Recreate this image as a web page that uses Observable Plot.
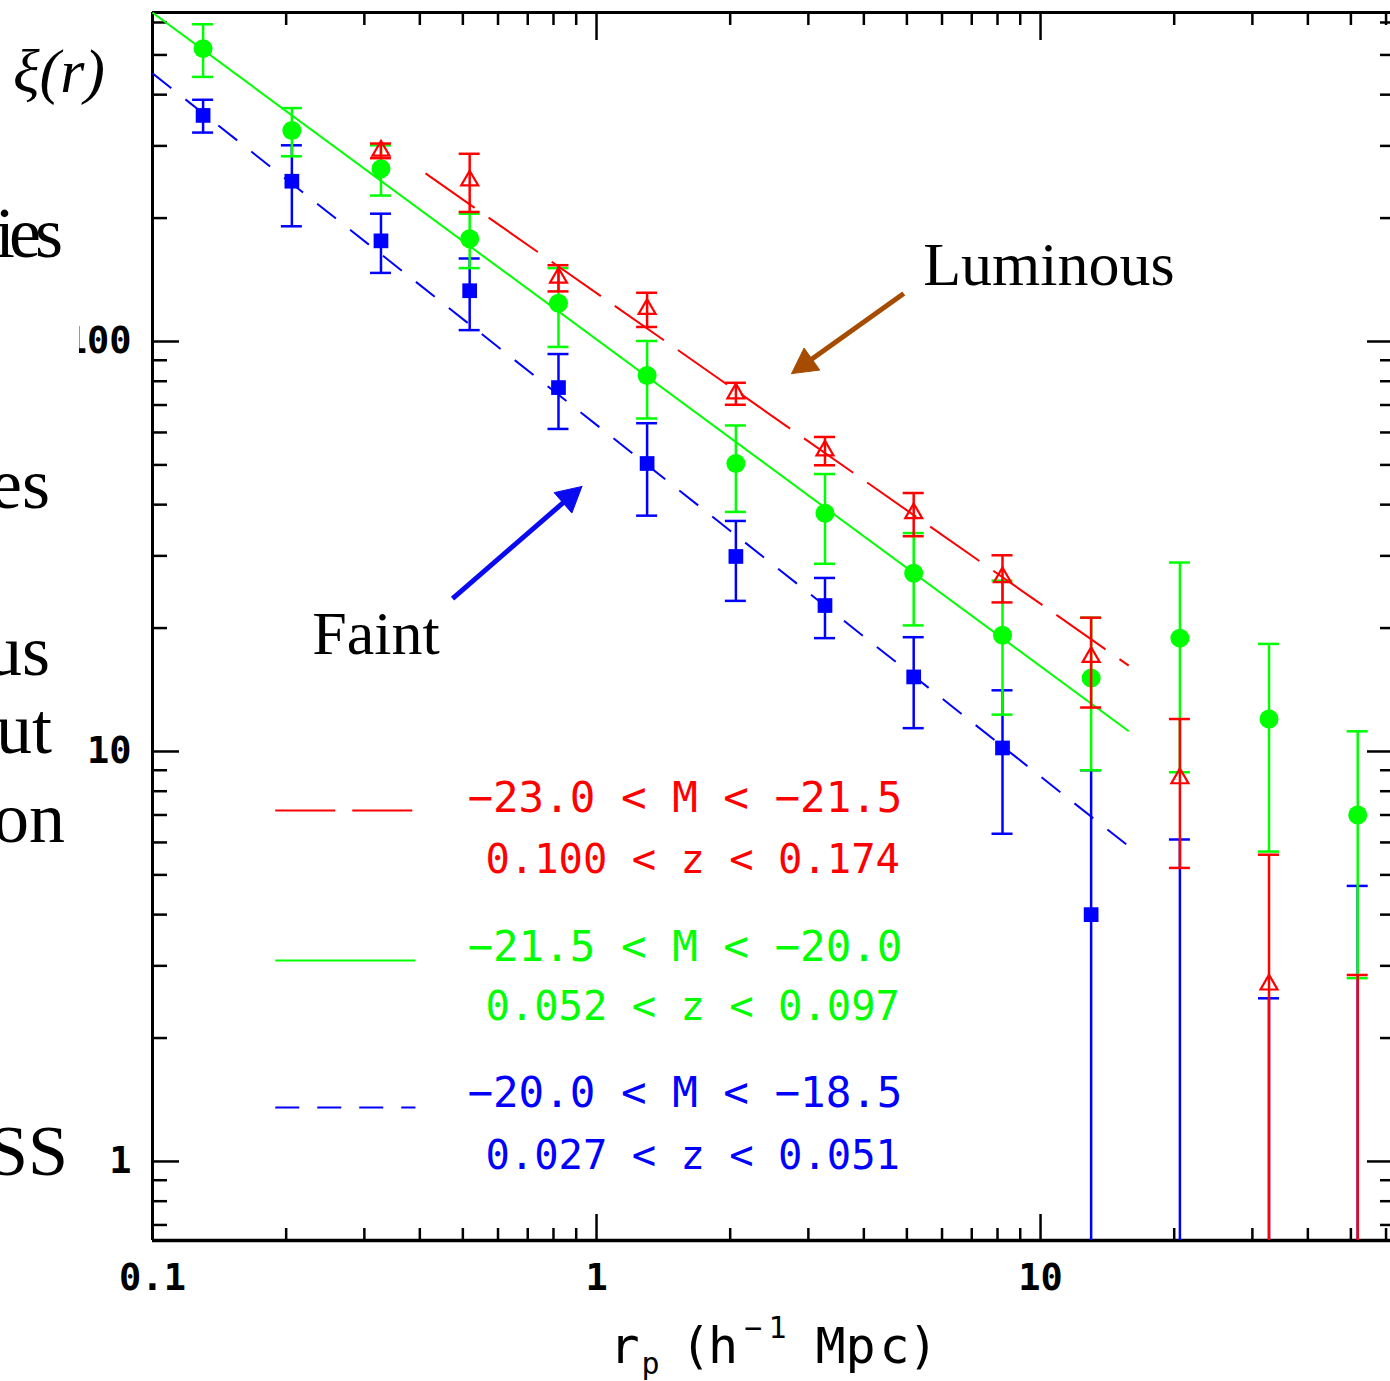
<!DOCTYPE html>
<html>
<head>
<meta charset="utf-8">
<title>Projected correlation function by luminosity</title>
<script src="https://cdn.jsdelivr.net/npm/d3@7"></script>
<script src="https://cdn.jsdelivr.net/npm/@observablehq/plot@0.6"></script>
<style>
  html, body { margin: 0; padding: 0; background: #fff; }
  #wrap { position: relative; width: 1390px; height: 1381px; overflow: hidden; }
  #slide { position: absolute; left: 0; top: 0; width: 79px; height: 1381px; background: #fff; }
  #slide span { position: absolute; white-space: nowrap; font-family: "Liberation Serif", serif; font-size: 72px; line-height: 1; color: #000; }
</style>
</head>
<body>
<div id="wrap"><div id="chart"></div><div id="slide"></div></div>
<script>
// ---------------- data ----------------
const rp = [0.130, 0.206, 0.327, 0.518, 0.821, 1.30, 2.06, 3.27, 5.18, 8.21, 13.0, 20.6, 32.7, 51.8];

const xiRed    = [null, null, 292, 247, 143, 120, 74.7, 54.2, 38.1, 26.6, 17.0, 8.6, 2.7, 0.4];
const errRed   = [null, null, 12, 40, 10.5, 11.5, 4.6, 4.3, 4.6, 3.5, 4.2, 3.4, 2.9, 2.45];
const xiGreen  = [518, 327, 264, 178, 124, 82.6, 50.4, 38.1, 27.2, 19.2, 15.1, 18.9, 12.0, 7.0];
const errGreen = [76, 44, 37, 27, 27, 17.7, 12.0, 9.4, 6.9, 6.9, 6.1, 10.0, 6.3, 4.2];
const xiBlue   = [356, 246, 176, 133, 77.2, 50.4, 29.9, 22.7, 15.2, 10.2, 4.0, 0.3, 0.3, 0.4];
const errBlue  = [32.7, 55, 29, 26.4, 16.0, 12.8, 6.6, 3.8, 3.8, 3.9, 5.0, 5.8, 2.2, 4.3];

// power-law fit lines (end points)
const fitRedR = [0.412, 15.8],  fitRedXi = [257, 16.2];
const fitGreenR = [0.1, 15.8],  fitGreenXi = [634, 11.2];
const fitBlueR = [0.1, 15.8],   fitBlueXi = [451, 5.87];

// legend texts
const legendM = ["−23.0 < M < −21.5", "−21.5 < M < −20.0", "−20.0 < M < −18.5"];
const legendZ = ["0.100 < z < 0.174", "0.052 < z < 0.097", "0.027 < z < 0.051"];
const legendLineR = [0.189, 0.391];
const legendLineXi = [7.18, 3.09, 1.354];
const legendMr = 0.512, legendZr = 0.562;
const legendMxi = [7.10, 3.09, 1.354];
const legendZxi = [5.04, 2.21, 0.961];

// ticks
const xMajor = [0.1, 1, 10];
const xMajorLabels = ["0.1", "1", "10"];
const xMinor = [0.2,0.3,0.4,0.5,0.6,0.7,0.8,0.9, 2,3,4,5,6,7,8,9, 20,30,40,50,60];
const yMajor = [1, 10, 100];
const yMajorLabels = ["1", "10", "100"];
const yMinor = [0.7,0.8,0.9, 2,3,4,5,6,7,8,9, 20,30,40,50,60,70,80,90, 200,300,400,500,600];

// annotations
const arrowLum   = {x1: 4.92,  y1: 131,  x2: 2.75,  y2: 83.5};
const arrowFaint = {x1: 0.474, y1: 23.6, x2: 0.927, y2: 44.3};
const labelLum   = {x: 5.44, y: 137, t: "Luminous"};
const labelFaint = {x: 0.229, y: 17.3, t: "Faint"};

const slideWords = [
  {t: "ies", end: 63, base: 257, ls: -6},
  {t: "es",  end: 50, base: 508, ls: 0},
  {t: "us",  end: 50, base: 675, ls: 0},
  {t: "ut",  end: 52, base: 753, ls: 0},
  {t: "on",  end: 65, base: 842, ls: 0},
  {t: "SS",  end: 68, base: 1175, ls: 0}
];

// ---------------- layout ----------------
const W = 1390, H = 1381;
const mL = 152, mR = 0, mT = 12, mB = 141;
const plotW = W - mL - mR, plotH = H - mT - mB;
const XMIN = 0.1, XMAX = 61.4, YMIN = 0.6415, YMAX = 634.6;
const mono = "DejaVu Sans Mono";
const RED = "#ff0000", GREEN = "#00ff00", BLUE = "#0000ff", BROWN = "#a64c00", ARROWBLUE = "#0a0af0";
const boxW = 79;

const sx = d3.scaleLog([XMIN, XMAX], [mL, W - mR]);
const sy = d3.scaleLog([YMIN, YMAX], [H - mB, mT]);

function rows(xi, err) {
  return rp.map((r, i) => ({r, xi: xi[i], err: err[i]})).filter(d => d.xi != null);
}
function caps(rs) {
  const out = [];
  for (const d of rs) {
    out.push({r: d.r, v: d.xi + d.err});
    if (d.xi - d.err > 0) out.push({r: d.r, v: d.xi - d.err});
  }
  return out;
}
function seriesMarks(xi, err, color, fitR, fitXi, dash, dotOpts) {
  const rs = rows(xi, err);
  const fit = fitR.map((r, i) => ({r, xi: fitXi[i]}));
  return [
    Plot.line(fit, {x: "r", y: "xi", stroke: color, strokeWidth: 2, strokeDasharray: dash, strokeLinecap: "butt", clip: true}),
    Plot.ruleX(rs, {x: "r", y1: d => Math.max(d.xi - d.err, 1e-3), y2: d => d.xi + d.err, stroke: color, strokeWidth: 2.5, clip: true}),
    Plot.ruleY(caps(rs), {x1: "r", x2: "r", y: "v", insetLeft: -10.5, insetRight: -10.5, stroke: color, strokeWidth: 2.5, clip: true}),
    Plot.dot(rs, {x: "r", y: "xi", clip: true, ...dotOpts})
  ];
}
function arrowMarks(a, color) {
  const tx = sx(a.x2), ty = sy(a.y2), fx = sx(a.x1), fy = sy(a.y1);
  const L = Math.hypot(tx - fx, ty - fy), ux = (tx - fx) / L, uy = (ty - fy) / L;
  const headLen = 25, halfW = 13.5;
  const bx = tx - ux * headLen, by = ty - uy * headLen, px = -uy, py = ux;
  const tri = [[tx, ty], [bx + px * halfW, by + py * halfW], [bx - px * halfW, by - py * halfW], [tx, ty]]
    .map(([X, Y]) => ({x: sx.invert(X), y: sy.invert(Y)}));
  const shaft = [{x: a.x1, y: a.y1}, {x: sx.invert(bx + ux * 3), y: sy.invert(by + uy * 3)}];
  return [
    Plot.line(shaft, {x: "x", y: "y", stroke: color, strokeWidth: 5, strokeLinecap: "butt"}),
    Plot.line(tri, {x: "x", y: "y", fill: color, stroke: color, strokeWidth: 1, strokeLinejoin: "miter"})
  ];
}
function glyph(t, cx, base, fs) {
  return Plot.text([t], {text: d => d, frameAnchor: "bottom-left", dx: cx - mL, dy: base - (H - mB),
    textAnchor: "middle", lineAnchor: "bottom", fontFamily: mono, fontSize: fs, fill: "black"});
}

const legendLines = [
  {xi: legendLineXi[0], color: RED, dash: "60,17"},
  {xi: legendLineXi[1], color: GREEN, dash: null},
  {xi: legendLineXi[2], color: BLUE, dash: "24,18"}
];
const legendColors = [RED, GREEN, BLUE];

const marks = [
  // frame
  Plot.ruleX([XMIN], {stroke: "black", strokeWidth: 3}),
  Plot.ruleY([YMAX], {stroke: "black", strokeWidth: 3}),
  Plot.ruleY([YMIN], {stroke: "black", strokeWidth: 3.5}),
  // ticks bottom/top
  Plot.tickX(xMajor, {x: d => d, insetTop: plotH - 26, stroke: "black", strokeWidth: 2.5}),
  Plot.tickX(xMinor, {x: d => d, insetTop: plotH - 12, stroke: "black", strokeWidth: 2.5}),
  Plot.tickX(xMajor, {x: d => d, insetBottom: plotH - 28, stroke: "black", strokeWidth: 2.5}),
  Plot.tickX(xMinor, {x: d => d, insetBottom: plotH - 13, stroke: "black", strokeWidth: 2.5}),
  // ticks left/right
  Plot.tickY(yMajor, {y: d => d, insetRight: plotW - 27, stroke: "black", strokeWidth: 2.5}),
  Plot.tickY(yMinor, {y: d => d, insetRight: plotW - 15, stroke: "black", strokeWidth: 2.5}),
  Plot.tickY(yMajor, {y: d => d, insetLeft: plotW - 23, stroke: "black", strokeWidth: 2.5}),
  Plot.tickY(yMinor, {y: d => d, insetLeft: plotW - 10, stroke: "black", strokeWidth: 2.5}),
  // legend
  ...legendLines.map(l => Plot.line(legendLineR.map(r => ({r, xi: l.xi})), {x: "r", y: "xi", stroke: l.color, strokeWidth: 2, strokeDasharray: l.dash, strokeLinecap: "butt"})),
  Plot.text(legendM, {x: () => legendMr, y: (d, i) => legendMxi[i], text: d => d, fill: (d, i) => legendColors[i],
    textAnchor: "start", lineAnchor: "bottom", fontFamily: mono, fontSize: 42.5}),
  Plot.text(legendZ, {x: () => legendZr, y: (d, i) => legendZxi[i], text: d => d, fill: (d, i) => legendColors[i],
    textAnchor: "start", lineAnchor: "bottom", fontFamily: mono, fontSize: 40.5}),
  // series
  ...seriesMarks(xiBlue, errBlue, BLUE, fitBlueR, fitBlueXi, "24,18", {symbol: "square", r: 8.3, fill: BLUE}),
  ...seriesMarks(xiGreen, errGreen, GREEN, fitGreenR, fitGreenXi, null, {symbol: "circle", r: 9.5, fill: GREEN}),
  ...seriesMarks(xiRed, errRed, RED, fitRedR, fitRedXi, "60,17", {symbol: "triangle", r: 6.3, fill: "none", stroke: RED, strokeWidth: 2.2}),
  // annotations
  ...arrowMarks(arrowLum, BROWN),
  ...arrowMarks(arrowFaint, ARROWBLUE),
  Plot.text([labelLum, labelFaint], {x: "x", y: "y", text: "t", textAnchor: "start", lineAnchor: "bottom",
    fontFamily: "Liberation Serif", fontSize: 62, fill: "black"}),
  // tick labels
  Plot.text(xMajor, {x: d => d, text: (d, i) => xMajorLabels[i], frameAnchor: "bottom", dy: 49, lineAnchor: "bottom",
    fontFamily: mono, fontSize: 37, fontWeight: "bold", fill: "black"}),
  Plot.text(yMajor, {y: d => d, text: (d, i) => yMajorLabels[i], frameAnchor: "left", dx: -21, textAnchor: "end",
    lineAnchor: "middle", fontFamily: mono, fontSize: 37, fontWeight: "bold", fill: "black"}),
  // x axis title: r_p (h^-1 Mpc)
  glyph("r", 624, 1362, 50),
  glyph("p", 650, 1373, 30),
  glyph("(", 695, 1362, 50),
  glyph("h", 722.5, 1362, 50),
  glyph("−", 752.5, 1337, 30),
  glyph("1", 777, 1337, 30),
  glyph("M", 830, 1362, 50),
  glyph("p", 860, 1362, 50),
  glyph("c", 894, 1362, 50),
  glyph(")", 922.5, 1362, 50)
];

const chart = Plot.plot({
  width: W, height: H,
  marginLeft: mL, marginRight: mR, marginTop: mT, marginBottom: mB,
  x: {type: "log", domain: [XMIN, XMAX], axis: null},
  y: {type: "log", domain: [YMIN, YMAX], axis: null},
  style: {background: "white", overflow: "visible"},
  marks
});
document.getElementById("chart").appendChild(chart);

// slide text fragments cut by the crop (left edge)
const slide = document.getElementById("slide");
for (const w of slideWords) {
  const s = document.createElement("span");
  s.textContent = w.t;
  s.style.letterSpacing = w.ls + "px";
  s.style.right = (boxW - w.end - w.ls) + "px";
  s.style.top = (w.base - 0.8375 * 72) + "px";
  slide.appendChild(s);
}
const xi = document.createElement("span");
xi.textContent = "ξ(r)";
xi.style.fontStyle = "italic";
xi.style.fontSize = "62px";
xi.style.left = "13px";
xi.style.top = (92 - 0.8375 * 62) + "px";
slide.appendChild(xi);
</script>
</body>
</html>
